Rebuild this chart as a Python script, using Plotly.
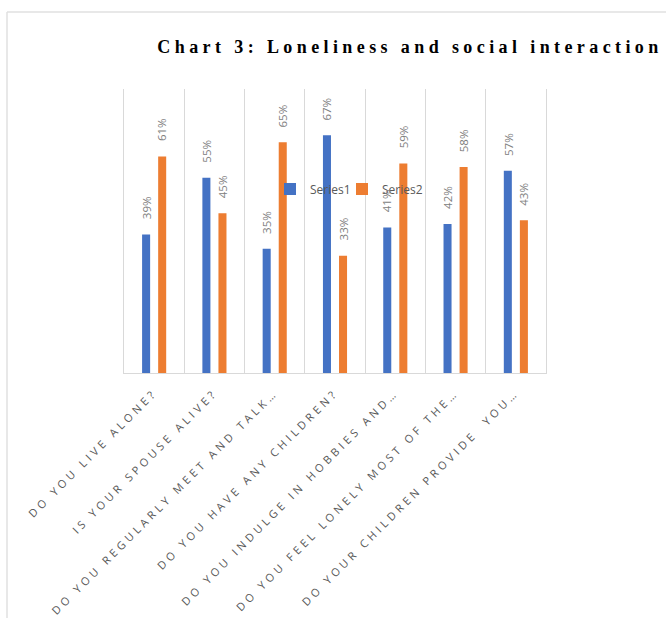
import plotly.graph_objects as go

categories = [
    "DO YOU LIVE ALONE?",
    "IS YOUR SPOUSE ALIVE?",
    "DO YOU REGULARLY MEET AND TALK…",
    "DO YOU HAVE ANY CHILDREN?",
    "DO YOU INDULGE IN HOBBIES AND…",
    "DO YOU FEEL LONELY MOST OF THE…",
    "DO YOUR CHILDREN PROVIDE  YOU…",
]
series1 = [0.39, 0.55, 0.35, 0.67, 0.41, 0.42, 0.57]
series2 = [0.61, 0.45, 0.65, 0.33, 0.59, 0.58, 0.43]
series_names = ["Series1", "Series2"]
title_text = "Chart 3: Loneliness and social interaction"

BLUE = "#4472C4"
ORANGE = "#ED7D31"
GRID = "#D9D9D9"
W, H = 666, 618
L, R, T, B = 124, 120, 89, 245
BARGAP, GROUPGAP = 0.467, 0.5
PW, PH = W - L - R, H - T - B

cat_w = PW / len(categories)
slot = cat_w * (1 - BARGAP) / 2

fig = go.Figure()
annotations = []
legend_ids = ["legend", "legend2"]
for k, (name, vals, col) in enumerate([(series_names[0], series1, BLUE), (series_names[1], series2, ORANGE)]):
    fig.add_trace(go.Bar(
        x=categories, y=vals, name=name, legend=legend_ids[k], showlegend=True,
        marker=dict(color=col, line=dict(width=0)),
    ))
    shift = (k - 0.5) * slot
    for c, v in zip(categories, vals):
        annotations.append(dict(
            x=c, y=v, xref="x", yref="y", text=f"{round(v * 100)}%", showarrow=False,
            textangle=-90, xanchor="center", yanchor="bottom", xshift=shift, yshift=13,
            font=dict(family="Open Sans", size=11.5, color="#808080"),
        ))

ticktext = ['<span style="letter-spacing:3.7px">%s</span>' % c for c in categories]

legend_style = dict(
    orientation="h", xanchor="left", y=(373 - 189) / PH, yanchor="middle",
    bgcolor="rgba(0,0,0,0)", font=dict(family="Open Sans", size=12, color="#595959"),
)

fig.update_layout(
    width=W, height=H,
    showlegend=True,
    margin=dict(l=L, r=R, t=T, b=B, pad=0, autoexpand=False),
    paper_bgcolor="white", plot_bgcolor="white",
    barmode="group", bargap=BARGAP, bargroupgap=GROUPGAP,
    title=dict(
        text='<span style="letter-spacing:4.4px">%s</span>' % title_text,
        font=dict(family="Liberation Serif", size=18, color="black", weight="bold"),
        x=410 / W, xref="container", xanchor="center",
        y=1 - 47 / H, yref="container", yanchor="middle",
    ),
    legend=dict(legend_style, x=(270 - L) / PW),
    legend2=dict(legend_style, x=(342 - L) / PW),
    xaxis=dict(
        type="category", tickson="boundaries", showgrid=True, gridcolor=GRID, gridwidth=1,
        showline=True, linecolor=GRID, linewidth=1, ticks="",
        tickmode="array", tickvals=categories, ticktext=ticktext, tickangle=-45,
        tickfont=dict(family="Open Sans", size=11, color="#595959"),
        ticklabelstandoff=8, zeroline=False, automargin=False,
    ),
    yaxis=dict(
        range=[0, 0.8], showgrid=False, showticklabels=False, ticks="", zeroline=False,
        showline=True, linecolor=GRID, linewidth=1, mirror=True, automargin=False,
    ),
    annotations=annotations,
    shapes=[
        dict(type="line", xref="paper", yref="paper", x0=(7 - L) / PW, x1=1.5,
             y0=1 + (T - 12) / PH, y1=1 + (T - 12) / PH,
             line=dict(color="#E0E0E0", width=1.5)),
        dict(type="line", xref="paper", yref="paper", x0=(7 - L) / PW, x1=(7 - L) / PW,
             y0=1 + (T - 12) / PH, y1=-2,
             line=dict(color="#E0E0E0", width=1.5)),
    ],
)

fig.write_html("out.html")
